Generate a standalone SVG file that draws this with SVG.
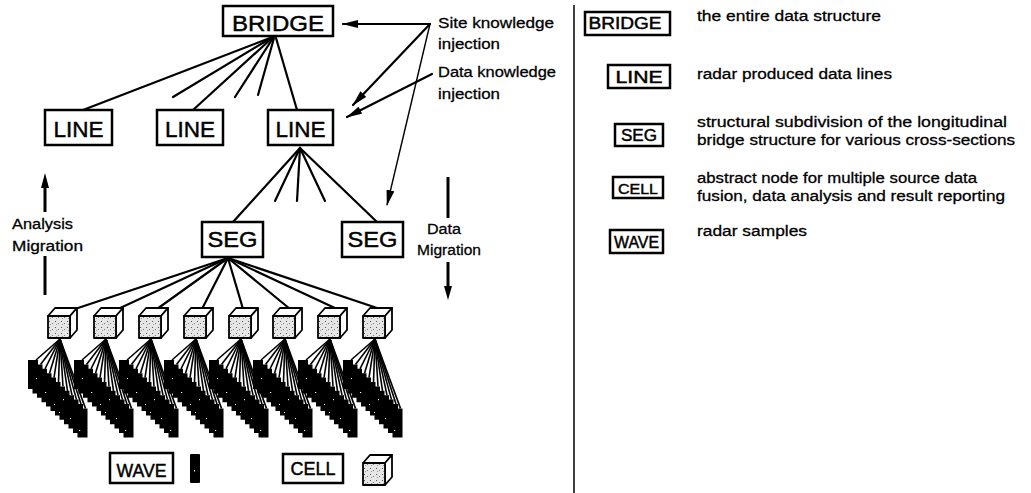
<svg xmlns="http://www.w3.org/2000/svg" xmlns:xlink="http://www.w3.org/1999/xlink" width="1031" height="493" viewBox="0 0 1031 493">
  <style>
    .box { fill: #fff; stroke: #000; stroke-width: 2.5; }
    .node { font-family: "Liberation Sans", Arial, sans-serif; fill: #000; stroke: #000; stroke-width: 0.45; text-anchor: middle; }
    .lbl { font-family: "Liberation Sans", Arial, sans-serif; fill: #000; stroke: #000; stroke-width: 0.3; font-size: 15.5px; }
    .edge { stroke: #000; stroke-width: 2.2; fill: none; stroke-linecap: round; }
    .thin { stroke: #000; stroke-width: 1.4; fill: none; }
    .fan { stroke: #000; stroke-width: 1.6; }
    .wave { fill: #000; }
    .speck { fill: #fff; }
    .face { fill: url(#dots); stroke: #000; stroke-width: 1.8; stroke-linejoin: round; }
    .lid { fill: #fff; stroke: #000; stroke-width: 1.8; stroke-linejoin: round; }
  </style>
  <defs>
    <pattern id="dots" width="6" height="6" patternUnits="userSpaceOnUse">
      <rect width="6" height="6" fill="#e6e6e6"/>
      <rect x="1" y="1" width="1" height="1" fill="#555"/>
      <rect x="4" y="3" width="1" height="1" fill="#777"/>
      <rect x="2" y="4" width="1" height="1" fill="#999"/>
    </pattern>
    <marker id="head" viewBox="0 0 16 8" refX="15" refY="4" markerWidth="16" markerHeight="8" markerUnits="userSpaceOnUse" orient="auto">
      <path d="M0,0 L16,4 L0,8 z" fill="#000"/>
    </marker>
    <!-- CELL icon: small shaded cube -->
    <g id="cube">
      <polygon class="lid" points="0,8 7,0 29,0 22,8"/>
      <polygon class="lid" points="22,8 29,0 29,22 22,30"/>
      <rect class="face" x="0" y="8" width="22" height="22"/>
    </g>
    <!-- one CELL with its fan of WAVE samples, placed at cube x = 0 -->
    <g id="cellUnit">
      <g class="fan">
        <line x1="12" y1="339" x2="-12" y2="360"/>
        <line x1="12" y1="339" x2="-7.5" y2="364.4"/>
        <line x1="12" y1="339" x2="-3" y2="368.8"/>
        <line x1="12" y1="339" x2="1.5" y2="373.2"/>
        <line x1="12" y1="339" x2="6" y2="377.6"/>
        <line x1="12" y1="339" x2="10.5" y2="382"/>
        <line x1="12" y1="339" x2="15" y2="386.4"/>
        <line x1="12" y1="339" x2="19.5" y2="390.8"/>
        <line x1="12" y1="339" x2="24" y2="395.2"/>
        <line x1="12" y1="339" x2="28.5" y2="399.6"/>
        <line x1="12" y1="339" x2="33" y2="404"/>
        <line x1="12" y1="339" x2="37.5" y2="408.4"/>
      </g>
      <!-- stacked WAVE samples drawn as one stepped outline -->
      <path class="wave" d="M-20,360 H-10 V364.4 H-5.5 V368.8 H-1 V373.2 H3.5 V377.6 H8 V382 H12.5 V386.4 H17 V390.8 H21.5 V395.2 H26 V399.6 H30.5 V404 H35 V408.4 H39.5 V437.4 H29.5 V433 H25 V428.6 H20.5 V424.2 H16 V419.8 H11.5 V415.4 H7 V411 H2.5 V406.6 H-2 V402.2 H-6.5 V397.8 H-11 V393.4 H-15.5 V389 H-20 Z"/>
      <g class="speck">
        <rect x="-12" y="378" width="1" height="1"/>
        <rect x="-3" y="392" width="1.2" height="1"/>
        <rect x="6" y="404" width="1" height="1"/>
        <rect x="15" y="399" width="1" height="1.2"/>
        <rect x="22" y="418" width="1" height="1"/>
        <rect x="31" y="430" width="1.2" height="1"/>
        <rect x="11" y="412" width="1" height="1"/>
      </g>
      <use xlink:href="#cube" y="308"/>
    </g>
  </defs>

  <rect width="1031" height="493" fill="#fff"/>

  <!-- connectors -->
  <g id="connectors">
    <!-- BRIDGE to LINE level -->
    <line class="edge" x1="270" y1="38" x2="83" y2="110"/>
    <line class="edge" x1="271" y1="38" x2="173" y2="97"/>
    <line class="edge" x1="272" y1="38" x2="193" y2="110"/>
    <line class="edge" x1="273" y1="38" x2="235" y2="97"/>
    <line class="edge" x1="274" y1="38" x2="258" y2="95"/>
    <line class="edge" x1="276" y1="38" x2="297" y2="110"/>
    <!-- LINE to SEG level -->
    <line class="edge" x1="300" y1="148" x2="233" y2="222"/>
    <line class="edge" x1="300" y1="148" x2="275" y2="201"/>
    <line class="edge" x1="300" y1="148" x2="297" y2="201"/>
    <line class="edge" x1="300" y1="148" x2="325" y2="201"/>
    <line class="edge" x1="300" y1="148" x2="377" y2="222"/>
    <!-- SEG to CELL level -->
    <line class="edge" x1="228" y1="258" x2="75" y2="309"/>
    <line class="edge" x1="228" y1="258" x2="118" y2="309"/>
    <line class="edge" x1="228" y1="258" x2="157" y2="309"/>
    <line class="edge" x1="228" y1="258" x2="202" y2="309"/>
    <line class="edge" x1="228" y1="258" x2="243" y2="309"/>
    <line class="edge" x1="228" y1="258" x2="290" y2="309"/>
    <line class="edge" x1="228" y1="258" x2="337" y2="309"/>
    <line class="edge" x1="228" y1="258" x2="380" y2="309"/>
    <!-- knowledge injection -->
    <line class="edge" x1="430" y1="24" x2="343" y2="24" marker-end="url(#head)"/>
    <line class="edge" x1="430" y1="24" x2="353" y2="105" marker-end="url(#head)"/>
    <line class="thin" x1="430" y1="24" x2="387" y2="205" marker-end="url(#head)"/>
    <line class="edge" x1="432" y1="74" x2="347" y2="117" marker-end="url(#head)"/>
    <!-- migration arrows -->
    <line x1="45" y1="184" x2="45" y2="212" stroke="#000" stroke-width="3"/>
    <polygon points="45,173 41,188 49,188" fill="#000"/>
    <line x1="45" y1="256" x2="45" y2="295" stroke="#000" stroke-width="3"/>
    <line x1="448" y1="177" x2="448" y2="218" stroke="#000" stroke-width="3"/>
    <line x1="448" y1="262" x2="448" y2="289" stroke="#000" stroke-width="3"/>
    <polygon points="444,286 452,286 448,300" fill="#000"/>
  </g>

  <!-- hierarchy nodes -->
  <g id="bridge">
    <rect class="box" x="223" y="6" width="110" height="30"/>
    <text class="node" x="278" y="31" font-size="22" textLength="92" lengthAdjust="spacingAndGlyphs">BRIDGE</text>
  </g>
  <g id="line-1">
    <rect class="box" x="45" y="110" width="67" height="35"/>
    <text class="node" x="78.5" y="137" font-size="22" textLength="50" lengthAdjust="spacingAndGlyphs">LINE</text>
  </g>
  <g id="line-2">
    <rect class="box" x="157" y="110" width="66" height="35"/>
    <text class="node" x="190" y="137" font-size="22" textLength="50" lengthAdjust="spacingAndGlyphs">LINE</text>
  </g>
  <g id="line-3">
    <rect class="box" x="268" y="110" width="65" height="35"/>
    <text class="node" x="300.5" y="137" font-size="22" textLength="50" lengthAdjust="spacingAndGlyphs">LINE</text>
  </g>
  <g id="seg-1">
    <rect class="box" x="202" y="222" width="61" height="35"/>
    <text class="node" x="232.5" y="247" font-size="22" textLength="50" lengthAdjust="spacingAndGlyphs">SEG</text>
  </g>
  <g id="seg-2">
    <rect class="box" x="342" y="222" width="61" height="35"/>
    <text class="node" x="372.5" y="247" font-size="22" textLength="50" lengthAdjust="spacingAndGlyphs">SEG</text>
  </g>

  <!-- cells with their wave samples -->
  <g id="cell-1"><use xlink:href="#cellUnit" x="48"/></g>
  <g id="cell-2"><use xlink:href="#cellUnit" x="94"/></g>
  <g id="cell-3"><use xlink:href="#cellUnit" x="139"/></g>
  <g id="cell-4"><use xlink:href="#cellUnit" x="184"/></g>
  <g id="cell-5"><use xlink:href="#cellUnit" x="229"/></g>
  <g id="cell-6"><use xlink:href="#cellUnit" x="273"/></g>
  <g id="cell-7"><use xlink:href="#cellUnit" x="318"/></g>
  <g id="cell-8"><use xlink:href="#cellUnit" x="363"/></g>

  <!-- annotations -->
  <g id="annotations" class="lbl">
    <text x="438" y="28" textLength="116" lengthAdjust="spacingAndGlyphs">Site knowledge</text>
    <text x="438" y="49" textLength="62" lengthAdjust="spacingAndGlyphs">injection</text>
    <text x="438" y="77" textLength="118" lengthAdjust="spacingAndGlyphs">Data knowledge</text>
    <text x="438" y="99" textLength="62" lengthAdjust="spacingAndGlyphs">injection</text>
    <text x="12" y="229" textLength="61" lengthAdjust="spacingAndGlyphs">Analysis</text>
    <text x="12" y="251" textLength="71" lengthAdjust="spacingAndGlyphs">Migration</text>
    <text x="427" y="234" textLength="34" lengthAdjust="spacingAndGlyphs">Data</text>
    <text x="417" y="255" textLength="64" lengthAdjust="spacingAndGlyphs">Migration</text>
  </g>

  <!-- icon key below the tree -->
  <g id="key-wave">
    <rect class="box" x="110" y="453" width="63" height="30"/>
    <text class="node" x="141.5" y="477" font-size="18" textLength="50" lengthAdjust="spacingAndGlyphs">WAVE</text>
    <rect x="190" y="454" width="10" height="29" rx="1" fill="#000"/>
    <rect x="194" y="470" width="1" height="1.5" fill="#fff"/>
  </g>
  <g id="key-cell">
    <rect class="box" x="283" y="454" width="60" height="29"/>
    <text class="node" x="313" y="475" font-size="18" textLength="45" lengthAdjust="spacingAndGlyphs">CELL</text>
    <use xlink:href="#cube" x="363" y="455"/>
  </g>

  <!-- divider -->
  <line x1="574" y1="5" x2="574" y2="493" stroke="#000" stroke-width="1.5"/>

  <!-- legend -->
  <g id="legend-bridge">
    <rect class="box" x="585" y="12" width="85" height="23"/>
    <text class="node" x="625" y="29" font-size="16" textLength="73" lengthAdjust="spacingAndGlyphs">BRIDGE</text>
    <text class="lbl" x="697" y="21" textLength="184" lengthAdjust="spacingAndGlyphs">the entire data structure</text>
  </g>
  <g id="legend-line">
    <rect class="box" x="608" y="65" width="62" height="23"/>
    <text class="node" x="639" y="83" font-size="16" textLength="47" lengthAdjust="spacingAndGlyphs">LINE</text>
    <text class="lbl" x="697" y="79" textLength="195" lengthAdjust="spacingAndGlyphs">radar produced data lines</text>
  </g>
  <g id="legend-seg">
    <rect class="box" x="615" y="124" width="48" height="22"/>
    <text class="node" x="639" y="141" font-size="16" textLength="36" lengthAdjust="spacingAndGlyphs">SEG</text>
    <text class="lbl" x="697" y="127" textLength="310" lengthAdjust="spacingAndGlyphs">structural subdivision of the longitudinal</text>
    <text class="lbl" x="697" y="145" textLength="318" lengthAdjust="spacingAndGlyphs">bridge structure for various cross-sections</text>
  </g>
  <g id="legend-cell">
    <rect class="box" x="613" y="177" width="50" height="21"/>
    <text class="node" x="638" y="194" font-size="15" textLength="40" lengthAdjust="spacingAndGlyphs">CELL</text>
    <text class="lbl" x="697" y="183" textLength="280" lengthAdjust="spacingAndGlyphs">abstract node for multiple source data</text>
    <text class="lbl" x="697" y="201" textLength="308" lengthAdjust="spacingAndGlyphs">fusion, data analysis and result reporting</text>
  </g>
  <g id="legend-wave">
    <rect class="box" x="610" y="230" width="53" height="23"/>
    <text class="node" x="636.5" y="248" font-size="16" textLength="45" lengthAdjust="spacingAndGlyphs">WAVE</text>
    <text class="lbl" x="697" y="236" textLength="110" lengthAdjust="spacingAndGlyphs">radar samples</text>
  </g>
</svg>
